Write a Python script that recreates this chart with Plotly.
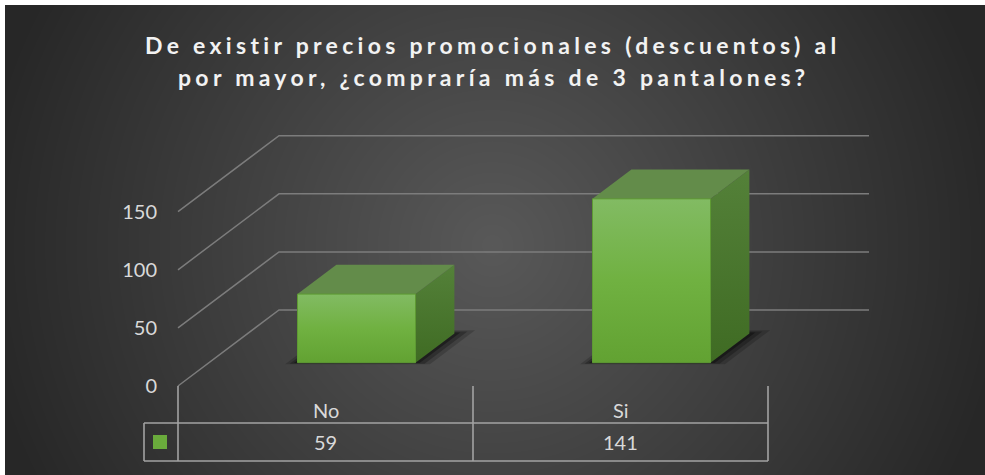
import base64, struct, zlib
import numpy as np
import plotly.graph_objects as go

# ---------------- data ----------------
categories = ["No", "Si"]
values = [59, 141]
tick_values = [0, 50, 100, 150]
tick_labels = ["0", "50", "100", "150"]
title_lines = ["De existir precios promocionales (descuentos) al",
               "por mayor, ¿compraría más de 3 pantalones?"]

# ---------------- figure geometry (style) ----------------
W, H = 985, 475
CAT_PX = 295.0          # pixels per category on the front plane
X0_PX = 325.5           # pixel of first category centre
UNIT_PX = 1.162         # pixels per value unit
Y0_PX = 386.0           # pixel of value 0 on the front plane
DEPTH_DX = 101.0 / CAT_PX    # oblique depth offset in category units
DEPTH_DY = 76.0 / UNIT_PX    # oblique depth offset in value units
BAR_HALF = 0.2
BAR_F0, BAR_F1 = 0.307, 0.692

xr = [(0 - X0_PX) / CAT_PX, (W - X0_PX) / CAT_PX]
yr = [-(H - Y0_PX) / UNIT_PX, Y0_PX / UNIT_PX]

def proj(x, v, d):
    return x + d * DEPTH_DX, v + d * DEPTH_DY

def poly(pts):
    xs, ys = zip(*[proj(*p) for p in pts])
    return list(xs) + [xs[0]], list(ys) + [ys[0]]

# ---------------- background image (radial gradient) ----------------
def png_bytes(arr):
    h, w, _ = arr.shape
    raw = b"".join(b"\x00" + arr[i].tobytes() for i in range(h))
    def chunk(t, d):
        c = struct.pack(">I", len(d)) + t + d
        return c + struct.pack(">I", zlib.crc32(t + d) & 0xffffffff)
    return (b"\x89PNG\r\n\x1a\n"
            + chunk(b"IHDR", struct.pack(">IIBBBBB", w, h, 8, 2, 0, 0, 0))
            + chunk(b"IDAT", zlib.compress(raw, 9))
            + chunk(b"IEND", b""))

bw, bh = 980, 470
yy, xx = np.mgrid[0:bh, 0:bw]
px = xx + 5
py = yy + 5
t = np.sqrt(((px - 492) / 520.0) ** 2 + ((py - 245) / 520.0) ** 2)
t = np.clip(t, 0, 1)
c = (0x59 + (0x27 - 0x59) * t).astype(np.uint8)
img = np.stack([c, c, c], axis=-1)
bg_src = "data:image/png;base64," + base64.b64encode(png_bytes(img)).decode()

fig = go.Figure()

# ---------------- gridlines (side wall + back wall) ----------------
left_edge = -0.5
right_edge = len(categories) - 0.5
for v in tick_values:
    xs, ys = zip(*[proj(left_edge, v, 0), proj(left_edge, v, 1), proj(right_edge, v, 1)])
    fig.add_trace(go.Scatter(x=xs, y=ys, mode="lines",
                             line=dict(color="#7c7c7c", width=1.5),
                             hoverinfo="skip", showlegend=False))

# ---------------- bars ----------------
for i, (cat, val) in enumerate(zip(categories, values)):
    l, r = i - BAR_HALF, i + BAR_HALF
    # shadow on the floor
    for k, a in [(0.035, 0.18), (0.022, 0.25), (0.01, 0.35)]:
        xs, ys = poly([(l - k, 0, BAR_F0 - k * 0.6), (r + k * 1.6, 0, BAR_F0 - k * 0.6),
                       (r + k * 1.6, 0, BAR_F1 + k * 1.2), (l - k, 0, BAR_F1 + k * 1.2)])
        fig.add_trace(go.Scatter(x=xs, y=ys, mode="lines", fill="toself",
                                 fillcolor=f"rgba(0,0,0,{a})", line=dict(width=0),
                                 hoverinfo="skip", showlegend=False))
    # side face
    xs, ys = poly([(r, 0, BAR_F0), (r, 0, BAR_F1), (r, val, BAR_F1), (r, val, BAR_F0)])
    fig.add_trace(go.Scatter(x=xs, y=ys, mode="lines", fill="toself",
                             fillgradient=dict(type="vertical",
                                               colorscale=[[0, "#3f6b23"], [1, "#548139"]]),
                             line=dict(width=0), hoverinfo="skip", showlegend=False))
    # top face
    xs, ys = poly([(l, val, BAR_F0), (r, val, BAR_F0), (r, val, BAR_F1), (l, val, BAR_F1)])
    fig.add_trace(go.Scatter(x=xs, y=ys, mode="lines", fill="toself",
                             fillcolor="#638c4a", line=dict(width=0),
                             hoverinfo="skip", showlegend=False))
    # front face
    xs, ys = poly([(l, 0, BAR_F0), (r, 0, BAR_F0), (r, val, BAR_F0), (l, val, BAR_F0)])
    fig.add_trace(go.Scatter(x=xs, y=ys, mode="lines", fill="toself",
                             fillgradient=dict(type="vertical",
                                               colorscale=[[0, "#62a232"], [0.5, "#70b141"], [1, "#82bb63"]]),
                             line=dict(color="#5e9a33", width=1), hoverinfo="skip", showlegend=False))

# ---------------- data table ----------------
tab_top = -(423 - Y0_PX) / UNIT_PX
tab_bot = -(461 - Y0_PX) / UNIT_PX
key_left = (144 - X0_PX) / CAT_PX
line_style = dict(color="#a3a3a3", width=1.6)
fig.add_trace(go.Scatter(x=[key_left, right_edge], y=[tab_top, tab_top], mode="lines",
                         line=line_style, hoverinfo="skip", showlegend=False))
fig.add_trace(go.Scatter(x=[key_left, right_edge], y=[tab_bot, tab_bot], mode="lines",
                         line=line_style, hoverinfo="skip", showlegend=False))
fig.add_trace(go.Scatter(x=[key_left, key_left], y=[tab_top, tab_bot], mode="lines",
                         line=line_style, hoverinfo="skip", showlegend=False))
for k in range(len(categories) + 1):
    xb = k - 0.5
    fig.add_trace(go.Scatter(x=[xb, xb], y=[0, tab_bot], mode="lines",
                             line=line_style, hoverinfo="skip", showlegend=False))

# legend key
key_cx = (160 - X0_PX) / CAT_PX
key_cy = (tab_top + tab_bot) / 2
fig.add_trace(go.Scatter(x=[key_cx], y=[key_cy], mode="markers",
                         marker=dict(symbol="square", size=14, color="#6aab3c",
                                     line=dict(width=0)),
                         hoverinfo="skip", showlegend=False))

txt_font = dict(family="Lato, Calibri, sans-serif", size=20, color="#d9d9d9")
head_y = -(410 - Y0_PX) / UNIT_PX
for i, (cat, val) in enumerate(zip(categories, values)):
    fig.add_annotation(x=i, y=head_y, text=cat, showarrow=False, font=txt_font,
                       xanchor="center", yanchor="middle")
    fig.add_annotation(x=i, y=key_cy, text=str(val), showarrow=False, font=txt_font,
                       xanchor="center", yanchor="middle")

# ---------------- title ----------------
for line, ypx in zip(title_lines, [45, 77]):
    fig.add_annotation(xref="paper", yref="paper", x=493 / W, y=1 - ypx / H,
                       text=f'<b><span style="letter-spacing:4.3px">{line}</span></b>',
                       showarrow=False, xanchor="center", yanchor="middle",
                       font=dict(family="Lato, Calibri, sans-serif", size=23, color="#f2f2f2"))

fig.update_layout(
    width=W, height=H, autosize=False,
    margin=dict(l=0, r=0, t=0, b=0, pad=0),
    paper_bgcolor="#ffffff", plot_bgcolor="rgba(0,0,0,0)",
    images=[dict(source=bg_src, xref="paper", yref="paper", x=5 / W, y=1 - 5 / H,
                 sizex=bw / W, sizey=bh / H, sizing="stretch", xanchor="left",
                 yanchor="top", layer="below")],
    xaxis=dict(range=xr, visible=False, fixedrange=True),
    yaxis=dict(range=yr, showgrid=False, zeroline=False, showline=False,
               tickvals=tick_values, ticktext=tick_labels, ticks="",
               anchor="free", position=157 / W,
               tickfont=dict(family="Lato, Calibri, sans-serif", size=20, color="#d9d9d9"),
               fixedrange=True),
)

fig.write_html("out.html")
